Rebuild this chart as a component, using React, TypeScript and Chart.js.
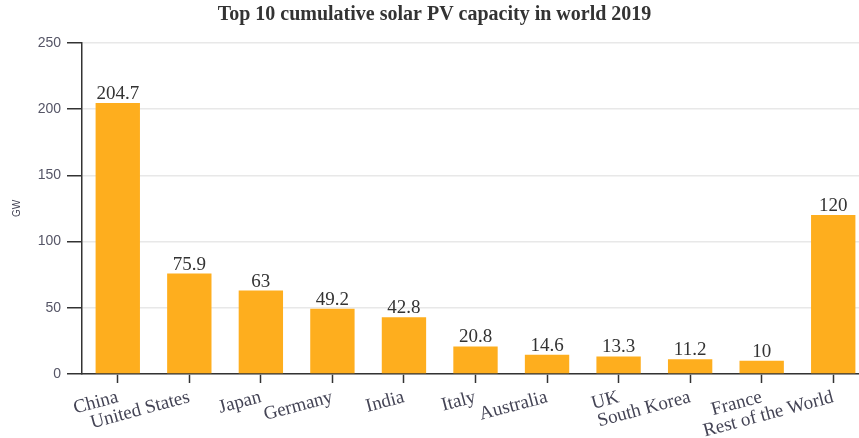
import React, { useEffect, useRef } from "react";
import { Chart, registerables } from "chart.js";

Chart.register(...registerables);

const categories = [
  "China",
  "United States",
  "Japan",
  "Germany",
  "India",
  "Italy",
  "Australia",
  "UK",
  "South Korea",
  "France",
  "Rest of the World",
];
const capacityGW = [204.7, 75.9, 63, 49.2, 42.8, 20.8, 14.6, 13.3, 11.2, 10, 120];
const yTicks = [0, 50, 100, 150, 200, 250];

const TITLE = "Top 10 cumulative solar PV capacity in world 2019";
const SERIF = "'Liberation Serif', 'Times New Roman', serif";
const SANS = "'Liberation Sans', Arial, sans-serif";
const BAR_COLOR = "#feae1e";

const valueLabels = {
  id: "valueLabels",
  afterDatasetsDraw(chart: any) {
    const ctx = chart.ctx;
    const meta = chart.getDatasetMeta(0);
    ctx.save();
    ctx.font = `19px ${SERIF}`;
    ctx.fillStyle = "#333";
    ctx.textAlign = "center";
    ctx.textBaseline = "alphabetic";
    meta.data.forEach((el: any, i: number) => {
      const v = chart.data.datasets[0].data[i];
      ctx.fillText(String(v), el.x, el.y - 4);
    });
    ctx.restore();
  },
};

export default function App() {
  const ref = useRef<HTMLCanvasElement>(null);
  useEffect(() => {
    if (!ref.current) return;
    const chart = new Chart(ref.current, {
      type: "bar",
      data: {
        labels: categories,
        datasets: [
          {
            data: capacityGW,
            backgroundColor: BAR_COLOR,
            borderWidth: 0,
            barPercentage: 0.62,
            categoryPercentage: 1,
          },
        ],
      },
      plugins: [valueLabels],
      options: {
        animation: false,
        responsive: false,
        maintainAspectRatio: false,
        layout: { padding: 0 },
        plugins: {
          legend: { display: false },
          tooltip: { enabled: false },
          title: {
            display: true,
            text: TITLE,
            color: "#333",
            font: { family: SERIF, size: 20, weight: "bold" },
            padding: { top: 3, bottom: 16 },
          },
        },
        scales: {
          x: {
            grid: {
              display: true,
              drawOnChartArea: false,
              offset: false,
              tickColor: "#333",
              tickLength: 9,
              tickWidth: 1.5,
            },
            border: { display: true, color: "#333", width: 1.5 },
            ticks: {
              color: "#445",
              font: { family: SERIF, size: 19 },
              maxRotation: 15,
              minRotation: 15,
              autoSkip: false,
              padding: 3,
            },
            afterFit(scale: any) {
              scale.height = 64;
            },
          },
          y: {
            min: 0,
            max: 250,
            afterBuildTicks(scale: any) {
              scale.ticks = yTicks.map((v) => ({ value: v }));
            },
            grid: {
              color: "#e8e8e8",
              lineWidth: 1.5,
              tickColor: "#333",
              tickLength: 15,
              tickWidth: 1.5,
            },
            border: { display: true, color: "#333", width: 1.5 },
            ticks: {
              color: "#556",
              font: { family: SANS, size: 14 },
              padding: 6,
            },
            title: {
              display: true,
              text: "GW",
              color: "#445",
              font: { family: SANS, size: 10 },
              padding: { top: 11, bottom: 0 },
            },
            afterFit(scale: any) {
              scale.width = 82;
            },
          },
        },
      },
    });
    return () => chart.destroy();
  }, []);
  return (
    <div
      style={{
        position: "fixed",
        left: 0,
        top: 0,
        width: 859,
        height: 438,
        overflow: "hidden",
        background: "#fff",
      }}
    >
      <canvas ref={ref} width={869} height={438} style={{ display: "block" }} />
    </div>
  );
}
